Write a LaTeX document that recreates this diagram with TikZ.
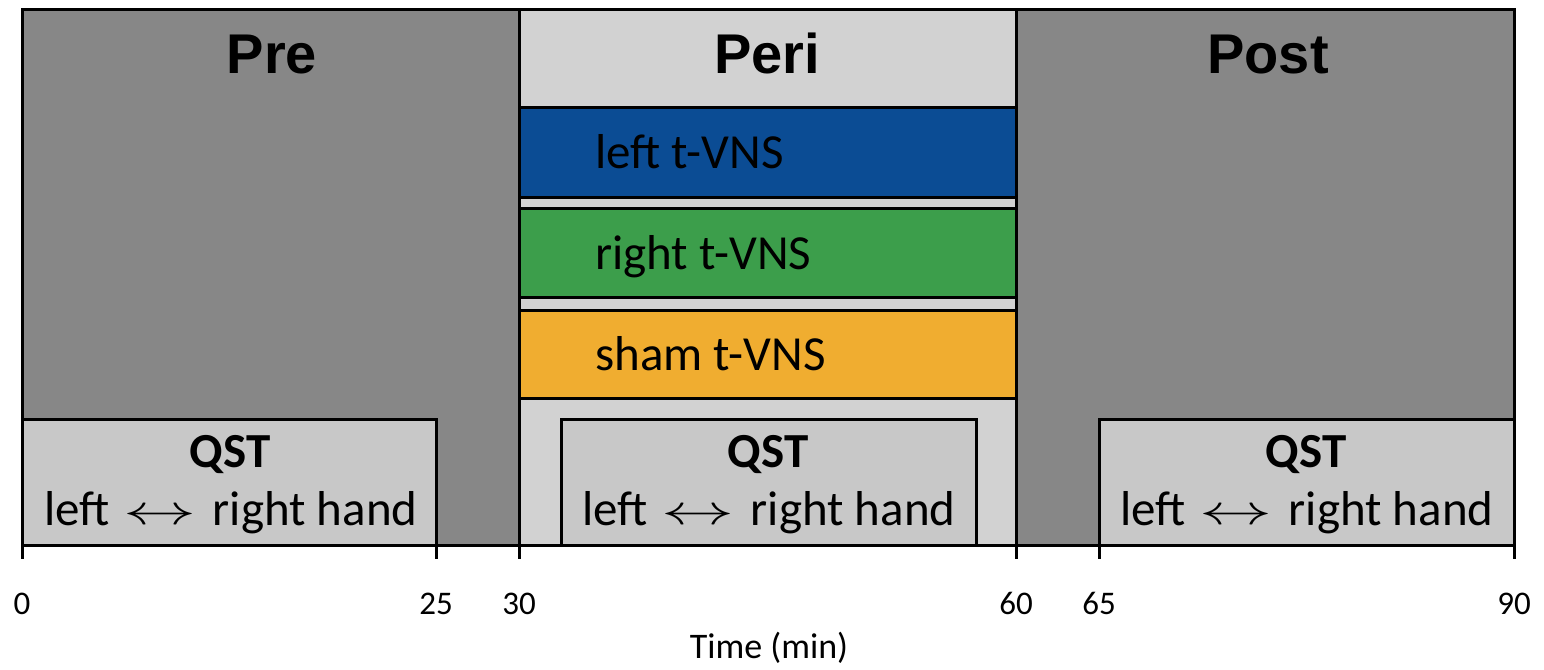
\documentclass[tikz,border=0pt]{standalone}
\usepackage{fontspec}
\setmainfont{Carlito}
\newfontfamily\titlefont{Liberation Sans}
\definecolor{darkbg}{HTML}{878787}
\definecolor{lightbg}{HTML}{D2D2D2}
\definecolor{qstbg}{HTML}{C8C8C8}
\definecolor{tvblue}{HTML}{0B4C94}
\definecolor{tvgreen}{HTML}{3C9E4B}
\definecolor{tvorange}{HTML}{F0AD30}
\newcommand{\lrarrowbig}{\hspace{3pt}\raisebox{1pt}{\scalebox{7.3}[4.2]{\fontsize{10}{12}\selectfont$\leftrightarrow$}}\hspace{5pt}}
\begin{document}
\begin{tikzpicture}[x=1pt,y=-1pt,
  frame/.style={draw=black,line width=3pt},
  ttl/.style={font=\titlefont\fontsize{56}{60}\selectfont\bfseries,anchor=base,inner sep=0pt},
  barlbl/.style={font=\fontsize{49}{58}\selectfont,anchor=base west,inner sep=0pt},
  qsthead/.style={font=\fontsize{49}{58}\selectfont\bfseries,anchor=base,inner sep=0pt},
  qstline/.style={font=\fontsize{49}{58}\selectfont,anchor=base,inner sep=0pt},
  ticklbl/.style={font=\fontsize{33}{40}\selectfont,anchor=base,inner sep=0pt},
  tick/.style={line width=3pt}]
\useasboundingbox (0,0) rectangle (1544,669);
% phase columns
\draw[frame,fill=darkbg] (22,10) rectangle (519,545);
\draw[frame,fill=lightbg] (519,10) rectangle (1016,545);
\draw[frame,fill=darkbg] (1016,10) rectangle (1514,545);
% stimulation bars
\draw[frame,fill=tvblue] (519,107) rectangle (1016,197);
\draw[frame,fill=tvgreen] (519,208) rectangle (1016,297);
\draw[frame,fill=tvorange] (519,310) rectangle (1016,398);
% QST boxes
\draw[frame,fill=qstbg] (22,419) rectangle (436,545);
\draw[frame,fill=qstbg] (561,419) rectangle (976,545);
\draw[frame,fill=qstbg] (1099,419) rectangle (1514,545);
% titles
\node[ttl] (pre) at (272,74) {Pre};
\node[ttl] (peri) at (767,74) {Peri};
\node[ttl] (post) at (1268,74) {Post};
% bar labels
\node[barlbl] (lvns) at (595,168) {left t-VNS};
\node[barlbl] (rvns) at (595,269) {right t-VNS};
\node[barlbl] (svns) at (595,370) {sham t-VNS};
% QST labels
\node[qsthead] (qa) at (230,467) {QST};
\node[qstline] (qla) at (231,525) {left \lrarrowbig{} right hand};
\node[qsthead] (qb) at (768,467) {QST};
\node[qstline] (qlb) at (769,525) {left \lrarrowbig{} right hand};
\node[qsthead] (qc) at (1306,467) {QST};
\node[qstline] (qlc) at (1307,525) {left \lrarrowbig{} right hand};
% ticks
\foreach \x/\n in {22/0,436/25,519/30,1016/60,1099/65,1514/90}{
  \draw[tick] (\x,544) -- (\x,559);
  \node[ticklbl] (t\n) at (\x,614) {\n};
}
\node[font=\fontsize{36}{42}\selectfont,anchor=base,inner sep=0pt] (time) at (769,658) {Time (min)};
\end{tikzpicture}
\end{document}
